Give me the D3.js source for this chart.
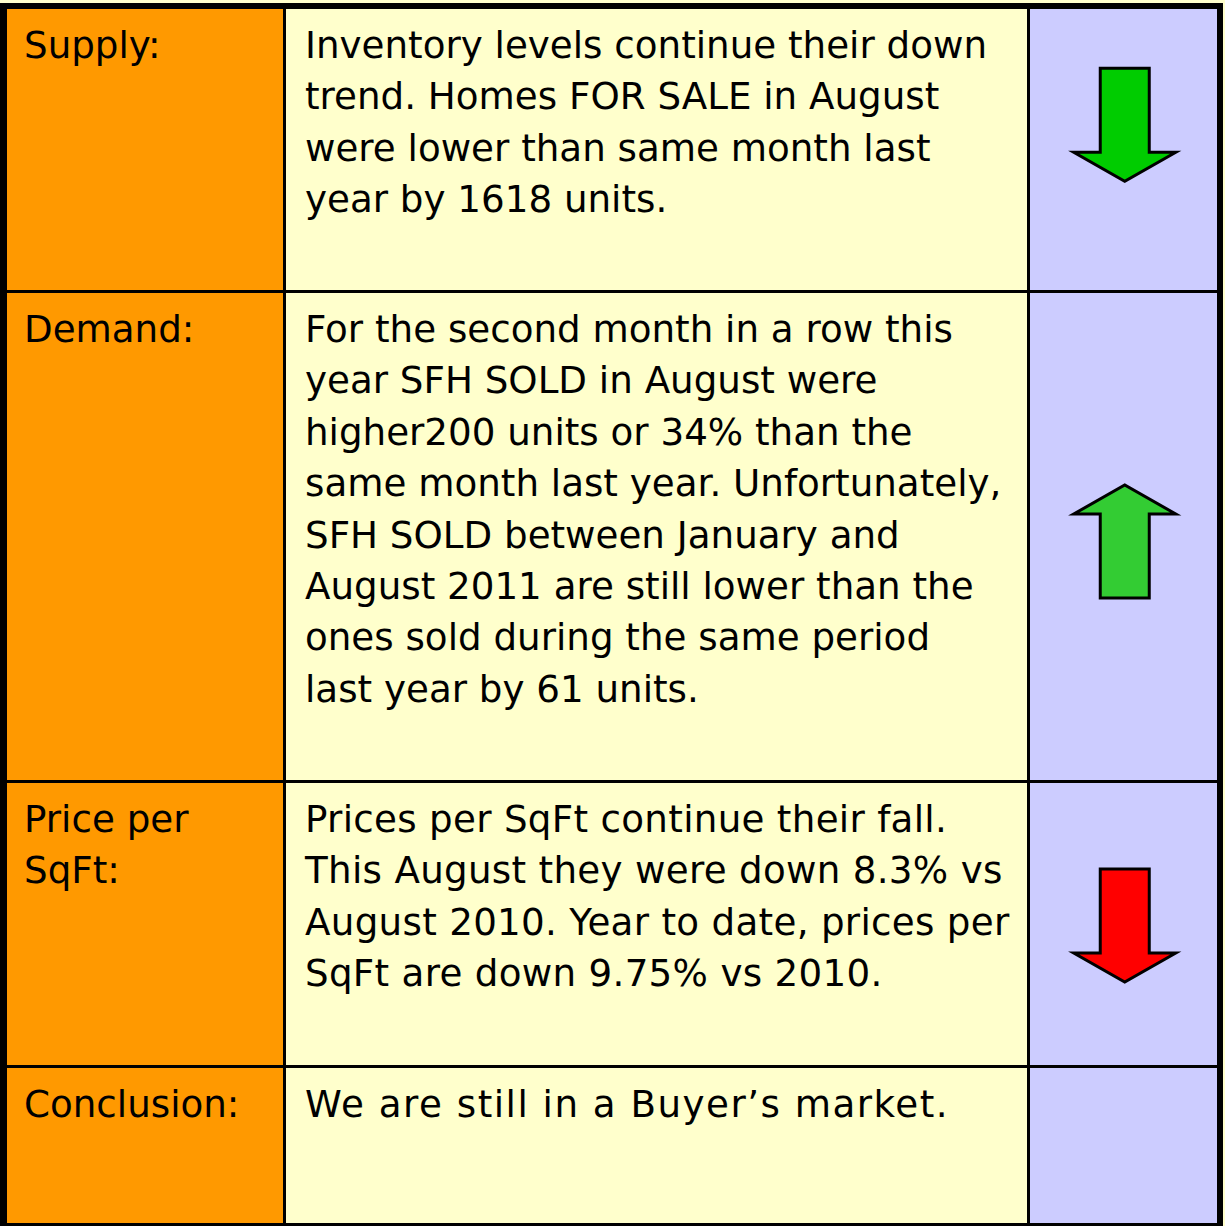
<!DOCTYPE html>
<html>
<head>
<meta charset="utf-8">
<script src="https://cdn.jsdelivr.net/npm/d3@7"></script>
<style>
  html, body { margin: 0; padding: 0; background: #FFFFCC; }
  svg { display: block; }
</style>
</head>
<body>
<div id="chart"></div>
<script>
// table content
var rowLabels = [
    ["Supply:"],
    ["Demand:"],
    ["Price per", "SqFt:"],
    ["Conclusion:"]
];

var rowTexts = [
    ["Inventory levels continue their down",
     "trend. Homes FOR SALE in August",
     "were lower than same month last",
     "year by 1618 units."],
    ["For the second month in a row this",
     "year SFH SOLD in August were",
     "higher200 units or 34% than the",
     "same month last year. Unfortunately,",
     "SFH SOLD between January and",
     "August 2011 are still lower than the",
     "ones sold during the same period",
     "last year by 61 units."],
    ["Prices per SqFt continue their fall.",
     "This August they were down 8.3% vs",
     "August 2010. Year to date, prices per",
     "SqFt are down 9.75% vs 2010."],
    ["We are still in a Buyer\u2019s market."]
];

var rowTrend = ["down", "up", "down", null];
var trendColors = ["#00CC00", "#33CC33", "#FF0000", null];

function init() {
    var w = 1225, h = 1226;

    // grid lines (centres) and their widths
    var colEdges = [3.5, 284.5, 1028.5, 1220];
    var colLineW = [7, 3, 3, 6];
    var rowEdges = [6, 291.5, 781.5, 1066.5, 1224.5];
    var rowLineW = [6, 3, 3, 3, 3];
    var colFill = ["#FF9900", "#FFFFCC", "#CCCCFF"];
    var arrowNudge = [-24, 5, 1.5, 0];
    var rowSpacing = [0, 0, 0.3, 1.5];   // the last row is set looser

    var fontFamily = "Tahoma, 'DejaVu Sans', Verdana, sans-serif";
    var fontSize = 37.5;
    var lineH = 51.4;
    var baseOff = 49;

    var svg = d3.select("#chart")
        .append("svg")
        .attr("width", w)
        .attr("height", h);

    svg.append("rect")
        .attr("width", w)
        .attr("height", h)
        .attr("fill", "#FFFFCC");

    var rows = d3.range(rowLabels.length);
    var cols = d3.range(3);

    // cell backgrounds
    rows.forEach(function (r) {
        cols.forEach(function (c) {
            svg.append("rect")
                .attr("x", colEdges[c])
                .attr("y", rowEdges[r])
                .attr("width", colEdges[c + 1] - colEdges[c])
                .attr("height", rowEdges[r + 1] - rowEdges[r])
                .attr("fill", colFill[c]);
        });
    });

    // measure a reference line so the text width matches the picture
    var probe = svg.append("text")
        .style("font-family", fontFamily)
        .style("font-size", fontSize + "px")
        .text(rowTexts[0][0]);
    var sx = 682 / probe.node().getComputedTextLength();
    probe.remove();

    function addLines(lines, x, yTop, spacing) {
        lines.forEach(function (t, i) {
            svg.append("g")
                .attr("transform", "translate(" + x + "," + (yTop + baseOff + i * lineH) + ") scale(" + sx + ",1)")
                .append("text")
                .style("font-family", fontFamily)
                .style("font-size", fontSize + "px")
                .style("letter-spacing", spacing + "px")
                .attr("fill", "#000")
                .text(t);
        });
    }

    rows.forEach(function (r) {
        var top = rowEdges[r] + rowLineW[r] / 2;
        addLines(rowLabels[r], 24, top, 0);
        addLines(rowTexts[r], 305, top, rowSpacing[r]);
    });

    // trend arrows
    var headHalf = 51, shaftHalf = 24.5, shaftLen = 84, headLen = 29;
    var line = d3.line();
    rows.forEach(function (r) {
        if (!rowTrend[r]) return;
        var cx = (colEdges[2] + colEdges[3]) / 2 + 0.5;
        var cy = (rowEdges[r] + rowEdges[r + 1]) / 2 + arrowNudge[r];
        var total = shaftLen + headLen;
        var y0 = -total / 2;
        var pts = [
            [-shaftHalf, y0], [shaftHalf, y0], [shaftHalf, y0 + shaftLen],
            [headHalf, y0 + shaftLen], [0, y0 + total], [-headHalf, y0 + shaftLen],
            [-shaftHalf, y0 + shaftLen]
        ];
        var flip = rowTrend[r] === "up" ? -1 : 1;
        svg.append("path")
            .attr("transform", "translate(" + cx + "," + cy + ") scale(1," + flip + ")")
            .attr("d", line(pts) + "Z")
            .attr("fill", trendColors[r])
            .attr("stroke", "#000")
            .attr("stroke-width", 3)
            .attr("stroke-linejoin", "miter");
    });

    // grid lines
    colEdges.forEach(function (x, i) {
        svg.append("line")
            .attr("x1", x).attr("x2", x)
            .attr("y1", 3).attr("y2", h)
            .attr("stroke", "#000")
            .attr("stroke-width", colLineW[i]);
    });
    rowEdges.forEach(function (y, i) {
        svg.append("line")
            .attr("x1", 0).attr("x2", 1223)
            .attr("y1", y).attr("y2", y)
            .attr("stroke", "#000")
            .attr("stroke-width", rowLineW[i]);
    });
}

window.onload = init;
</script>
</body>
</html>
